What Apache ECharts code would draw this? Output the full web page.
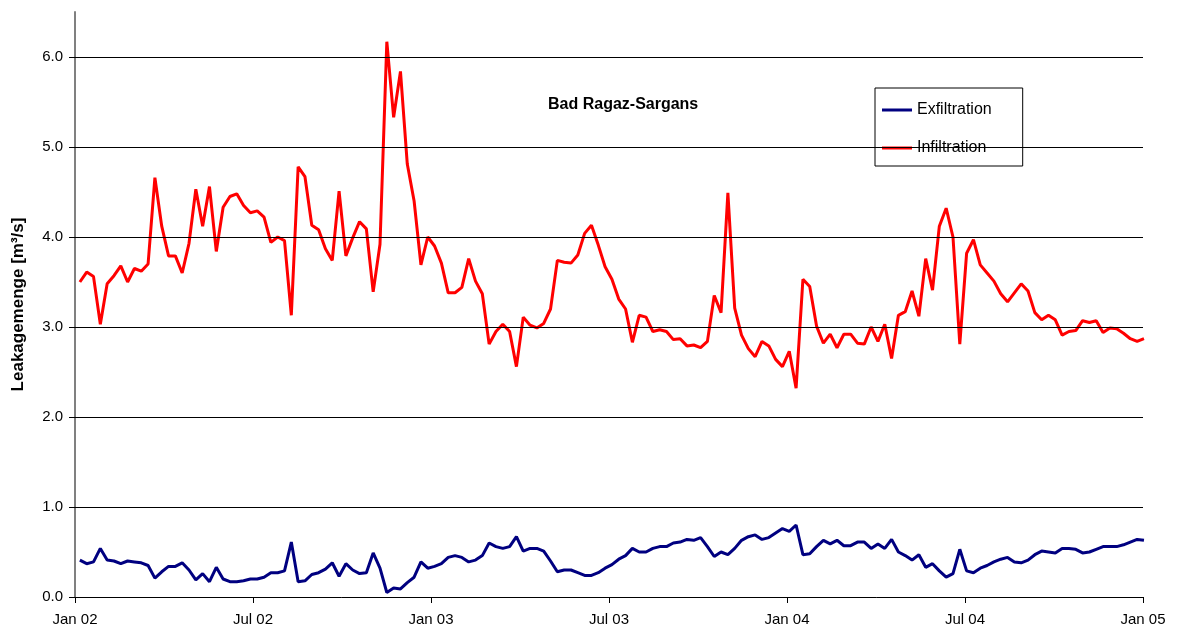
<!DOCTYPE html>
<html><head><meta charset="utf-8">
<script src="https://cdn.jsdelivr.net/npm/echarts@6/dist/echarts.min.js"></script>
<style>html,body{margin:0;padding:0;background:#fff}#c{width:1177px;height:631px}</style>
</head><body><div id="c"></div>
<script>
const firstDate = '2002-01-06';
const axisStart = '2002-01-01';
const xTickLabels = ['Jan 02','Jul 02','Jan 03','Jul 03','Jan 04','Jul 04','Jan 05'];
const yTicks = [0,1,2,3,4,5,6];
const exfiltration = [0.41,0.37,0.39,0.54,0.41,0.40,0.37,0.40,0.39,0.38,0.35,0.21,0.28,0.34,0.34,0.38,0.30,0.19,0.26,0.17,0.33,0.20,0.17,0.17,0.18,0.20,
0.20,0.22,0.27,0.27,0.29,0.61,0.17,0.18,0.25,0.27,0.31,0.38,0.23,0.37,0.30,0.26,0.27,0.49,0.32,0.05,0.10,0.09,0.16,0.22,0.39,0.32,0.34,
0.37,0.44,0.46,0.44,0.39,0.41,0.46,0.60,0.56,0.54,0.56,0.67,0.51,0.54,0.54,0.51,0.40,0.28,0.30,0.30,0.27,0.24,0.24,0.27,0.32,0.36,
0.42,0.46,0.54,0.50,0.50,0.54,0.56,0.56,0.60,0.61,0.64,0.63,0.66,0.56,0.45,0.50,0.47,0.54,0.63,0.67,0.69,0.64,0.66,0.71,0.76,0.73,0.80,
0.47,0.48,0.56,0.63,0.59,0.63,0.57,0.57,0.61,0.61,0.54,0.59,0.54,0.64,0.50,0.46,0.41,0.47,0.33,0.37,0.29,0.22,0.26,0.53,0.29,0.27,
0.32,0.35,0.39,0.42,0.44,0.39,0.38,0.41,0.47,0.51,0.50,0.49,0.54,0.54,0.53,0.49,0.50,0.53,0.56,0.56,0.56,0.58,0.61,0.64,0.63];
const infiltration = [3.50,3.61,3.56,3.03,3.48,3.57,3.68,3.50,3.65,3.62,3.70,4.66,4.12,3.79,3.79,3.60,3.93,4.53,4.12,4.56,3.84,4.33,4.45,4.48,4.35,4.27,
4.29,4.22,3.94,4.00,3.96,3.13,4.78,4.67,4.13,4.08,3.87,3.74,4.51,3.79,3.99,4.17,4.09,3.39,3.92,6.17,5.33,5.84,4.81,4.40,3.69,4.00,3.90,
3.71,3.38,3.38,3.44,3.76,3.51,3.37,2.81,2.95,3.03,2.95,2.56,3.11,3.02,2.99,3.04,3.20,3.74,3.72,3.71,3.80,4.04,4.13,3.91,3.67,3.53,
3.31,3.20,2.83,3.13,3.11,2.95,2.97,2.95,2.86,2.87,2.79,2.80,2.77,2.84,3.35,3.16,4.49,3.21,2.91,2.76,2.67,2.84,2.79,2.64,2.56,2.73,2.32,
3.53,3.45,3.01,2.82,2.92,2.77,2.92,2.92,2.82,2.81,3.00,2.84,3.03,2.65,3.13,3.17,3.40,3.12,3.76,3.41,4.12,4.32,4.00,2.81,3.82,3.97,
3.69,3.60,3.51,3.37,3.28,3.38,3.48,3.40,3.16,3.08,3.13,3.08,2.91,2.95,2.96,3.07,3.05,3.07,2.94,2.99,2.98,2.93,2.87,2.84,2.87];

// x position in months since Jan 2002 (axis spans 36 months, uniform half-year ticks)
const DAY = 86400000;
const t0 = Date.parse(axisStart), t1 = Date.parse(firstDate);
const daysPerMonth = 1096 / 36;
function xOf(i){ return ((t1 - t0) / DAY + 7 * i) / daysPerMonth; }
const exData = exfiltration.map((v,i)=>[xOf(i), v]);
const inData = infiltration.map((v,i)=>[xOf(i), v]);

const font = 'Liberation Sans, Arial, sans-serif';
const chart = echarts.init(document.getElementById('c'), null, {renderer:'canvas'});
chart.setOption({
  animation:false,
  backgroundColor:'#fff',
  title:{text:'Bad Ragaz-Sargans', left:543, top:92,
    textStyle:{fontFamily:font, fontSize:16, fontWeight:'bold', color:'#000'}},
  legend:{orient:'vertical', left:875, top:88, padding:[14,31,10,7], itemGap:22,
    borderColor:'#000', borderWidth:1, itemWidth:30, itemHeight:3, icon:'rect',
    textStyle:{fontFamily:font, fontSize:16, color:'#000'},
    data:['Exfiltration','Infiltration']},
  grid:{left:75, right:34, top:12, bottom:34, containLabel:false},
  xAxis:{type:'value', min:0, max:36, interval:6,
    axisLine:{lineStyle:{color:'#000', width:1}},
    axisTick:{show:true, inside:false, length:6, lineStyle:{color:'#000'}},
    splitLine:{show:false},
    axisLabel:{fontFamily:font, fontSize:15, color:'#000', margin:15,
      formatter:(v)=>xTickLabels[Math.round(v/6)] || ''}},
  yAxis:{type:'value', min:0, max:6.5, interval:1,
    name:'Leakagemenge [m³/s]', nameLocation:'middle', nameGap:48,
    nameTextStyle:{fontFamily:font, fontSize:17, fontWeight:'bold', color:'#000'},
    axisLine:{show:true, lineStyle:{color:'#808080', width:2}},
    axisTick:{show:true, length:6, lineStyle:{color:'#000'}},
    splitLine:{show:false},
    axisLabel:{fontFamily:font, fontSize:15, color:'#000', margin:12, showMaxLabel:false,
      formatter:(v)=> yTicks.includes(v) ? v.toFixed(1) : ''}},
  series:[
    {name:'Exfiltration', type:'line', data:exData, showSymbol:false, symbol:'none', clip:false,
      lineStyle:{color:'#000080', width:3}, itemStyle:{color:'#000080'},
      markLine:{silent:true, symbol:'none', label:{show:false}, animation:false,
        lineStyle:{color:'#000', width:1, type:'solid'},
        data: yTicks.filter(v=>v>0).map(v=>({yAxis:v}))}},
    {name:'Infiltration', type:'line', data:inData, showSymbol:false, symbol:'none', clip:false,
      lineStyle:{color:'#ff0000', width:3}, itemStyle:{color:'#ff0000'}}
  ]
});
</script></body></html>
